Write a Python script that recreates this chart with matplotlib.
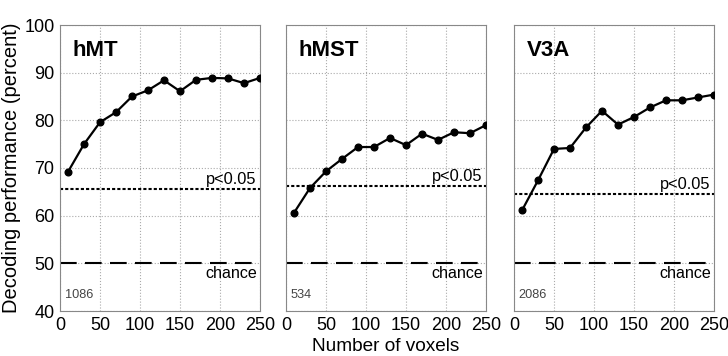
import matplotlib.pyplot as plt

plt.rcParams['font.family'] = ['Liberation Sans', 'DejaVu Sans']

voxels = [10, 30, 50, 70, 90, 110, 130, 150, 170, 190, 210, 230, 250]
regions = ['hMT', 'hMST', 'V3A']
hmt = [69.2, 75.0, 79.6, 81.7, 85.0, 86.3, 88.4, 86.1, 88.5, 88.9, 88.8, 87.8, 88.9]
hmst = [60.6, 65.8, 69.3, 71.9, 74.4, 74.4, 76.3, 74.8, 77.2, 75.9, 77.5, 77.3, 79.0]
v3a = [61.1, 67.4, 74.0, 74.2, 78.5, 82.0, 79.1, 80.7, 82.7, 84.2, 84.2, 84.8, 85.4]
thresholds = [65.6, 66.2, 64.5]
n_voxels = ['1086', '534', '2086']
chance = 50

fig = plt.figure(figsize=(7.28, 3.56), dpi=100)
lefts = [60, 286, 514]
W, H = 728, 356
axes = []
for i, (name, vals) in enumerate(zip(regions, [hmt, hmst, v3a])):
    ax = fig.add_axes([lefts[i] / W, (H - 311) / H, 200 / W, 286 / H])
    axes.append(ax)
    ax.plot(voxels, vals, color='black', lw=1.6, marker='o', markersize=4.8, zorder=3)
    ax.plot([0, 250], [thresholds[i]] * 2, color='black', lw=1.5, ls=(0, (1.5, 1)))
    ax.plot([0, 245], [chance] * 2, color='black', lw=1.5, ls=(0, (8, 4)))
    ax.text(16, 94.7, name, fontsize=16, fontweight='bold', va='center', ha='left')
    ax.text(246, thresholds[i] + 0.4, 'p<0.05', fontsize=11.8, ha='right', va='bottom')
    ax.text(246, chance - 0.6, 'chance', fontsize=11.6, ha='right', va='top')
    ax.text(6, 43.3, n_voxels[i], fontsize=9.2, color='#444444', ha='left', va='center')
    ax.set_xlim(0, 250)
    ax.set_ylim(40, 100)
    ax.set_xticks([0, 50, 100, 150, 200, 250])
    ax.set_yticks([40, 50, 60, 70, 80, 90, 100])
    ax.grid(True, color='#aaaaaa', ls=':', lw=0.8)
    ax.set_axisbelow(True)
    ax.tick_params(length=0, labelsize=13, pad=4)
    for s in ax.spines.values():
        s.set_color('#888888')
        s.set_linewidth(0.8)
    if i > 0:
        ax.set_yticklabels([])

axes[0].set_ylabel('Decoding performance (percent)', fontsize=14.5, labelpad=2)
axes[1].set_xlabel('Number of voxels', fontsize=13.7, labelpad=3)

fig.savefig('out.png', dpi=100)
